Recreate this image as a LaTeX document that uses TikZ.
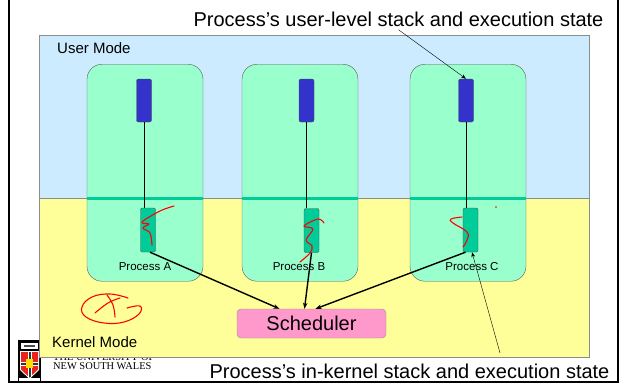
\documentclass[tikz,border=0pt]{standalone}
\usepackage{fontspec}
\setmainfont{Liberation Sans}
\newfontfamily\unswfont{Liberation Serif}
\usetikzlibrary{arrows.meta, positioning}

\definecolor{usercol}{HTML}{CCEBFF}
\definecolor{kernelcol}{HTML}{FFFF99}
\definecolor{proccol}{HTML}{99FFCC}
\definecolor{kstackcol}{HTML}{00CC99}
\definecolor{ustackcol}{HTML}{3333CC}
\definecolor{schedcol}{HTML}{FF99CC}
\definecolor{crestred}{HTML}{E8251C}

\tikzset{
  proc/.style = {draw=black!65, fill=proccol, rounded corners=15pt, minimum width=116pt, minimum height=217pt, inner sep=0pt},
  ustack/.style = {draw=black!70, fill=ustackcol, rounded corners=2pt, minimum width=15pt, minimum height=43pt, inner sep=0pt},
  kstack/.style = {draw=black!70, fill=kstackcol, rounded corners=2pt, minimum width=15pt, minimum height=44pt, inner sep=0pt},
  band/.style = {kstackcol, line width=3pt},
  plabel/.style = {font=\fontsize{11.5}{13}\selectfont, anchor=base},
  mlabel/.style = {font=\fontsize{15}{17}\selectfont, anchor=base west, inner sep=0pt},
  biglabel/.style = {font=\fontsize{20}{22}\selectfont, anchor=base},
  scribble/.style = {red, line width=1.1pt, line cap=round, line join=round},
}

\begin{document}
\begin{tikzpicture}[x=1pt, y=-1pt]
  \useasboundingbox (0,0) rectangle (624,383);

  % logo (partly under the kernel box)
  \node (unsw1) [anchor=base west, inner sep=0pt, font=\unswfont\fontsize{10.4}{12}\selectfont] at (53,360) {THE UNIVERSITY OF};
  \node (unsw2) [anchor=base west, inner sep=0pt, font=\unswfont\fontsize{10.4}{12}\selectfont] at (53,369.5) {NEW SOUTH WALES};
  \fill[black] (18,340) rectangle (41,383);
  \fill[white] (21,343) rectangle (38,349);
  \fill[black!70] (24,345) rectangle (35,347);
  \fill[white] (20,351) -- (39,351) -- (39,370) -- (29.5,379) -- (20,370) -- cycle;
  \fill[crestred] (21,352) -- (38,352) -- (38,369.5) -- (29.5,377.5) -- (21,369.5) -- cycle;
  \fill[white] (27.5,352) rectangle (31.5,377);
  \fill[white] (21,362) rectangle (38,366);
  \fill[black!80] (28.5,352) rectangle (30.5,377);
  \fill[black!80] (21,363) rectangle (38,365);
  \fill[yellow!80!orange] (26,359) rectangle (33,368);
  \fill[white] (19,378) rectangle (40,382);

  % modes
  \draw[black!45, fill=usercol] (39,35) rectangle (589,198);
  \draw[black!45, fill=kernelcol] (39,198) rectangle (589,357);
  \node (umode) [mlabel] at (57,53) {User Mode};
  \node (kmode) [mlabel] at (52,347) {Kernel Mode};

  % processes
  \node (pA) [proc] at (145,172.75) {};
  \node (pB) [proc] at (300,172.75) {};
  \node (pC) [proc] at (468,172.75) {};
  \foreach \p in {pA,pB,pC}
    \draw[band] ([yshift=-134pt]\p.north west) -- ([yshift=-134pt]\p.north east);

  \node (sA) [ustack] at (144,100.5) {};
  \node (sB) [ustack] at (306.5,100.5) {};
  \node (sC) [ustack] at (466,100.5) {};
  \node (kA) [kstack] at (148,230) {};
  \node (kB) [kstack] at (311.5,230.5) {};
  \node (kC) [kstack] at (470.5,230) {};

  \draw (sA.south) -- (sA.south |- kA.north);
  \draw (sB.south) -- (sB.south |- kB.north);
  \draw (sC.south) -- (sC.south |- kC.north);

  \node (lA) [plabel] at (145,270) {Process A};
  \node (lB) [plabel] at (299,270) {Process B};
  \node (lC) [plabel] at (472,270) {Process C};

  % scheduler
  \node (sched) [draw=black!45, fill=schedcol, rounded corners=4pt, minimum width=149pt, minimum height=29pt, font=\fontsize{20}{22}\selectfont] at (311.5,323.5) {Scheduler};

  \path [-{Stealth[length=6pt]}, line width=1.4pt] ([xshift=2pt]kA.south) edge ([xshift=-32pt]sched.north);
  \path [-{Stealth[length=6pt]}, line width=1.4pt] (kB.south) edge ([xshift=-7pt]sched.north);
  \path [-{Stealth[length=6pt]}, line width=1.4pt] ([xshift=-5pt]kC.south) edge ([xshift=4pt]sched.north);

  % annotations
  \node (ulabel) [biglabel] at (398.5,26) {Process’s user-level stack and execution state};
  \node (klabel) [biglabel] at (409.5,378) {Process’s in-kernel stack and execution state};
  \coordinate (kfoot) at (500,353);
  \draw[-{Stealth[length=5pt]}] (ulabel.south) -- (sC.north);
  \draw[-{Stealth[length=5pt]}] (kfoot) -- ([xshift=1.5pt]kC.south);

  % red pen
  \draw[scribble] plot[smooth, tension=0.6] coordinates {(174,206) (160,211) (142,222) (149,224) (143,228) (150,233) (152,245)};
  \draw[scribble] plot[smooth, tension=0.6] coordinates {(324,223) (318,219) (304,226) (313,229) (306,240) (312,246) (310,253) (300,262)};
  \draw[scribble] plot[smooth, tension=0.7] coordinates {(462,217) (451,219) (453,223) (467,232) (467,240) (463,247)};
  \fill[red] (496,207) circle (0.8pt);
  \draw[scribble] plot[smooth, tension=0.7] coordinates {(127,308) (140,306) (139,314) (124,322) (104,323) (86,317) (82,307) (92,297) (110,294) (128,298)};
  \draw[scribble] plot[smooth, tension=0.7] coordinates {(95,313) (108,303) (120,298)};
  \draw[scribble] plot[smooth, tension=0.7] coordinates {(107,295) (113,305) (115,317)};

  % frame
  \draw[line width=1.5pt] (9,-2) -- (9,382) -- (618,382) -- (618,-2);
\end{tikzpicture}
\end{document}
